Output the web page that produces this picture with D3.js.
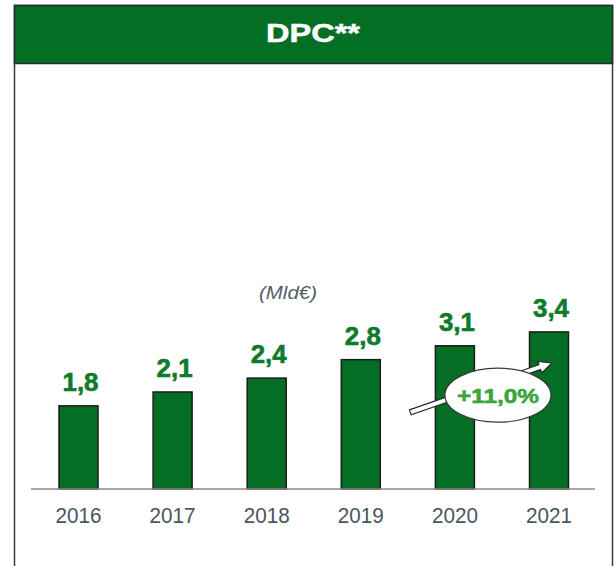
<!DOCTYPE html>
<html>
<head>
<meta charset="utf-8">
<script src="https://cdn.jsdelivr.net/npm/d3@7"></script>
<style>
  body { margin: 0; background: #fff; }
  text { font-family: Arial, "Liberation Sans", sans-serif; }
</style>
</head>
<body>
<div id="chart"></div>
<script>
// DPC** - annual values, billions of euro
const years = ["2016", "2017", "2018", "2019", "2020", "2021"];
const values = [1.8, 2.1, 2.4, 2.8, 3.1, 3.4];
const valueLabels = ["1,8", "2,1", "2,4", "2,8", "3,1", "3,4"];
const growthLabel = "+11,0%";

const W = 616, H = 566;
const baseY = 489;

const svg = d3.select("#chart")
    .append("svg")
    .attr("width", W)
    .attr("height", H);

// frame + header
svg.append("rect")
    .attr("x", 14.5).attr("y", 5.5)
    .attr("width", 598).attr("height", 600)
    .attr("fill", "#fff")
    .attr("stroke", "#3a3a3a")
    .attr("stroke-width", 1.5);

svg.append("rect")
    .attr("x", 14.5).attr("y", 5.5)
    .attr("width", 598).attr("height", 58)
    .attr("fill", "#036f24")
    .attr("stroke", "#2a2a2a")
    .attr("stroke-width", 1.5);

svg.append("text")
    .attr("x", 313).attr("y", 42)
    .attr("text-anchor", "middle")
    .attr("font-size", 26.5)
    .attr("font-weight", "bold")
    .attr("fill", "#fff")
    .attr("stroke", "#fff")
    .attr("stroke-width", 0.5)
    .attr("textLength", 94)
    .attr("lengthAdjust", "spacingAndGlyphs")
    .text("DPC**");

// scales
const x = d3.scalePoint()
    .domain(years)
    .range([78.5, 549]);

const y = d3.scaleLinear()
    .domain([0, 4])
    .range([baseY, baseY - 184.8]);

const barW = 39;

// unit
svg.append("text")
    .attr("x", 288).attr("y", 299)
    .attr("text-anchor", "middle")
    .attr("font-size", 19)
    .attr("font-style", "italic")
    .attr("fill", "#555e66")
    .attr("textLength", 58)
    .attr("lengthAdjust", "spacingAndGlyphs")
    .text("(Mld€)");

// bars
svg.selectAll(".bar")
    .data(values)
    .enter()
    .append("rect")
    .attr("class", "bar")
    .attr("x", (d, i) => x(years[i]) - barW / 2)
    .attr("y", d => y(d))
    .attr("width", barW)
    .attr("height", d => baseY - y(d))
    .attr("fill", "#046e24")
    .attr("stroke", "#1c1c1c")
    .attr("stroke-width", 1.5);

// value labels
svg.selectAll(".val")
    .data(values)
    .enter()
    .append("text")
    .attr("class", "val")
    .attr("x", (d, i) => x(years[i]) + 2)
    .attr("y", d => y(d) - 15)
    .attr("text-anchor", "middle")
    .attr("font-size", 25)
    .attr("font-weight", "bold")
    .attr("fill", "#0f7a2c")
    .attr("stroke", "#0f7a2c")
    .attr("stroke-width", 0.6)
    .attr("textLength", 36)
    .attr("lengthAdjust", "spacingAndGlyphs")
    .text((d, i) => valueLabels[i]);

// baseline
svg.append("line")
    .attr("x1", 31).attr("x2", 595)
    .attr("y1", baseY).attr("y2", baseY)
    .attr("stroke", "#8a8a8a")
    .attr("stroke-width", 1.5);

// year labels
svg.selectAll(".yr")
    .data(years)
    .enter()
    .append("text")
    .attr("class", "yr")
    .attr("x", d => x(d))
    .attr("y", 523)
    .attr("text-anchor", "middle")
    .attr("font-size", 22)
    .attr("fill", "#4a5560")
    .attr("textLength", 46)
    .attr("lengthAdjust", "spacingAndGlyphs")
    .text(d => d);

// growth arrow (from between 2019/2020 up to 2021 bar)
const x0 = x("2019") + 49.5, y0 = y(1.66);
const x1 = x("2021") + 3, y1 = y(2.73);
const ang = Math.atan2(y1 - y0, x1 - x0);
const len = Math.hypot(x1 - x0, y1 - y0);
const sw = 2.6, hl = 13, hw = 6;
const pts = [
    [0, -sw], [len - hl, -sw], [len - hl, -hw], [len, 0],
    [len - hl, hw], [len - hl, sw], [0, sw]
];
svg.append("path")
    .attr("d", d3.line()(pts) + "Z")
    .attr("transform", `translate(${x0},${y0}) rotate(${ang * 180 / Math.PI})`)
    .attr("fill", "#fff")
    .attr("stroke", "#2a2a2a")
    .attr("stroke-width", 1.2);

// growth bubble
const cx = (x("2020") + x("2021")) / 2 - 4;
const cy = y(2.03);
svg.append("ellipse")
    .attr("cx", cx).attr("cy", cy)
    .attr("rx", 53).attr("ry", 27)
    .attr("fill", "#fff")
    .attr("stroke", "#3a3a3a")
    .attr("stroke-width", 1.2);

svg.append("text")
    .attr("x", cx).attr("y", cy + 7.5)
    .attr("text-anchor", "middle")
    .attr("font-size", 21)
    .attr("font-weight", "bold")
    .attr("fill", "#3aa63a")
    .attr("stroke", "#3aa63a")
    .attr("stroke-width", 0.6)
    .attr("textLength", 82)
    .attr("lengthAdjust", "spacingAndGlyphs")
    .text(growthLabel);
</script>
</body>
</html>
